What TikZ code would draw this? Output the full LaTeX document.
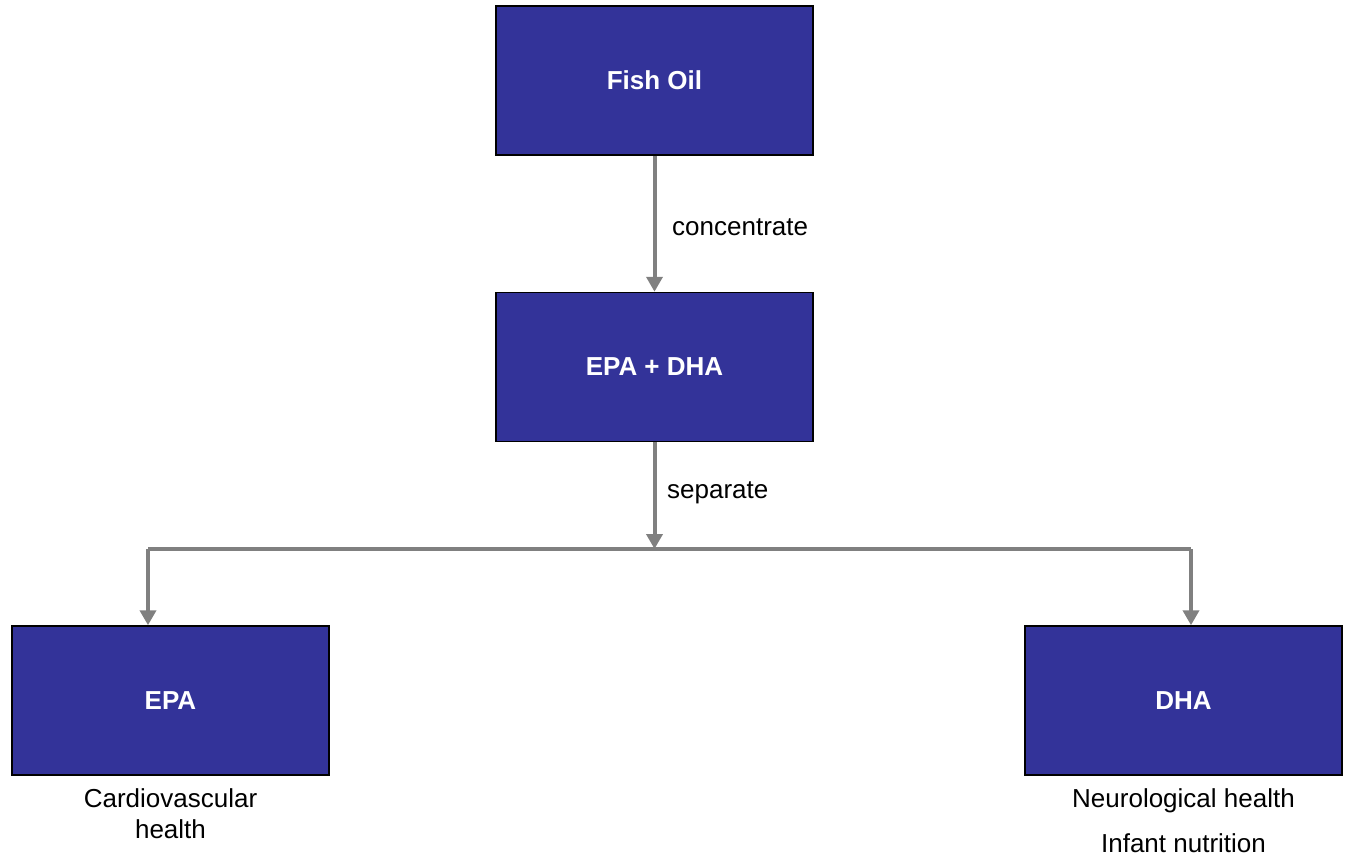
\documentclass[tikz,border=0pt]{standalone}
\usepackage{fontspec}
\setmainfont{Liberation Sans}
\usetikzlibrary{positioning,arrows.meta}
\usepackage{xcolor}
\definecolor{boxblue}{RGB}{51,51,153}
\definecolor{arrowgray}{RGB}{128,128,128}
\tikzset{
stagebox/.style={
  rectangle,
  draw=black,
  line width=1.5pt,
  fill=boxblue,
  minimum width=317pt,
  minimum height=149pt,
  text=white,
  font=\fontsize{26}{31}\selectfont\bfseries
  },
flow/.style={
  draw=arrowgray,
  line width=4pt,
  -{Triangle[width=16pt,length=15pt]}
  },
branch/.style={draw=arrowgray,line width=4pt},
steplabel/.style={font=\fontsize{26}{31}\selectfont,inner sep=0pt},
note/.style={font=\fontsize{26}{31}\selectfont,inner sep=0pt,align=center},
%texto/.style={font=\footnotesize\sffamily}
}

\begin{document}
\begin{tikzpicture}[x=1pt,y=-1pt]
    \useasboundingbox (0,0) rectangle (1345,857);
    \node [stagebox] (fish) at (654.5,80.5) {Fish Oil};
    \node [stagebox] (epadha) at (654.5,367) {EPA + DHA};
    \node [stagebox] (epa) at (170.5,700.5) {EPA};
    \node [stagebox] (dha) at (1183.5,700.5) {DHA};
    \coordinate (split) at (654.5,549);
    \coordinate (lt) at (148,549);
    \coordinate (rt) at (1191,549);

    \draw [flow] (fish) -- (epadha);
    \draw [flow] (epadha) -- (split);
    \draw [branch] (lt) -- (rt);
    \draw [flow] (lt) -- (lt |- epa.north);
    \draw [flow] (rt) -- (rt |- dha.north);

    \node [steplabel,anchor=base west] (conc) at (672,235) {concentrate};
    \node [steplabel,anchor=base west] (sep) at (667,498) {separate};

    \node [note,below=13pt of epa] (epanote) {Cardiovascular\\health};
    \node [note,below=13pt of dha] (dhanote) {Neurological health\\[14pt]Infant nutrition};
\end{tikzpicture}
\end{document}
